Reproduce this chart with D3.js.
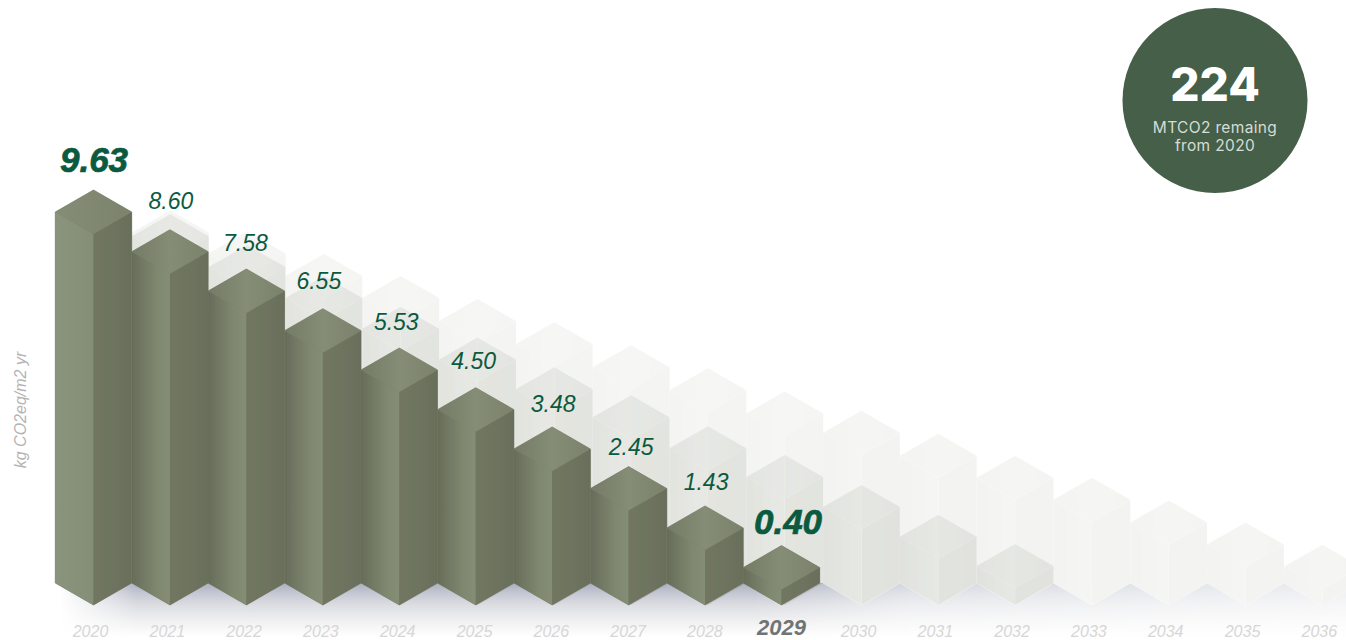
<!DOCTYPE html>
<html>
<head>
<meta charset="utf-8">
<script src="https://d3js.org/d3.v7.min.js"></script>
<style>
html,body{margin:0;padding:0;background:#fff;overflow:hidden}
svg{display:block}
text{font-family:"Liberation Sans",Arial,sans-serif}
</style>
</head>
<body>
<svg id="chart" width="1346" height="640"></svg>
<script>
// ---------- data ----------
const years = [2020,2021,2022,2023,2024,2025,2026,2027,2028,2029,2030,2031,2032,2033,2034,2035,2036];
const actualYears = [2020,2021,2022,2023,2024,2025,2026,2027,2028,2029];
const actualValues = [9.63,8.60,7.58,6.55,5.53,4.50,3.48,2.45,1.43,0.40];
const actualLabels = ["9.63","8.60","7.58","6.55","5.53","4.50","3.48","2.45","1.43","0.40"];
const slowPathYears = [2021,2022,2023,2024,2025,2026,2027,2028,2029,2030,2031,2032,2033,2034,2035,2036];
const slowPathValues = [9.1,8.55,7.97,7.4,6.8,6.2,5.6,5.0,4.4,3.9,3.3,2.73,2.16,1.57,1.0,0.42];
const midPathYears = [2021,2022,2023,2024,2025,2026,2027,2028,2029,2030,2031,2032];
const midPathValues = [9.0,8.2,7.4,6.6,5.8,5.03,4.3,3.5,2.75,1.97,1.2,0.44];
const highlightYears = [2020,2029];
const axisTitle = "kg CO2eq/m2 yr";
const badgeValue = "224";
const badgeLines = ["MTCO2 remaing","from 2020"];

// ---------- layout ----------
const W = 1346, H = 640;
const x = d3.scalePoint().domain(years).range([93.5, 1322.3]);
const xActual = d3.scalePoint().domain(actualYears).range([93.5, 781.5]);
const y = d3.scaleLinear().domain([0, 9.63]).range([583, 212]);
const halfGhost = x.step() / 2, halfActual = xActual.step() / 2, halfD = 22;
const labelGap = [18,21,18,20,18,19,15,12,16,12];
const labelShift = [0.5,1,-1,-4,-3,-2,1,2.5,1,6.5];

const svg = d3.select("#chart").attr("viewBox", `0 0 ${W} ${H}`);
const defs = svg.append("defs");

function hGrad(id, stops) {
  const g = defs.append("linearGradient").attr("id", id);
  stops.forEach(([o, c]) => g.append("stop").attr("offset", o).attr("stop-color", c));
}
hGrad("leftFirst", [[0,"#8a937b"],[1,"#858e76"]]);
hGrad("left", [[0,"#666c58"],[0.3,"#727964"],[0.7,"#808970"],[1,"#848d75"]]);
hGrad("right", [[0,"#70775f"],[0.6,"#6d735e"],[1,"#686e5a"]]);
hGrad("top", [[0,"#747b66"],[0.5,"#858d76"],[1,"#7a826b"]]);
hGrad("topFirst", [[0,"#858d76"],[1,"#7b836c"]]);

const gv = defs.append("linearGradient").attr("id","groundV").attr("x1",0).attr("x2",0).attr("y1",0).attr("y2",1);
[[0,"#abafbf"],[0.2,"#c6c9d3"],[0.42,"#dcdee3"],[0.7,"#f0f0f1"],[1,"#ffffff"]].forEach(([o,c]) =>
  gv.append("stop").attr("offset",o).attr("stop-color",c));
const gm = defs.append("linearGradient").attr("id","groundFade").attr("gradientUnits","userSpaceOnUse")
  .attr("x1",60).attr("x2",W).attr("y1",0).attr("y2",0);
[[0,0],[0.06,1],[0.54,1],[0.66,0.5],[1,0.25]].forEach(([o,a]) =>
  gm.append("stop").attr("offset",o).attr("stop-color","#fff").attr("stop-opacity",a));
defs.append("mask").attr("id","groundMask").attr("maskUnits","userSpaceOnUse")
  .attr("x",0).attr("y",560).attr("width",W).attr("height",80)
  .append("rect").attr("x",0).attr("y",560).attr("width",W).attr("height",80).attr("fill","url(#groundFade)");
defs.append("filter").attr("id","soft").attr("x","-5%").attr("y","-5%").attr("width","110%").attr("height","110%")
  .append("feGaussianBlur").attr("stdDeviation",0.7);

const line = d3.line();
const faces = (cx, halfW, v) => {
  const t = y(v), b = y(0);
  return {
    top:   line([[cx-halfW,t],[cx,t-halfD],[cx+halfW,t],[cx,t+halfD]]) + "Z",
    left:  line([[cx-halfW,t],[cx,t+halfD],[cx,b+halfD],[cx-halfW,b]]) + "Z",
    right: line([[cx,t+halfD],[cx+halfW,t],[cx+halfW,b],[cx,b+halfD]]) + "Z",
    whole: line([[cx-halfW,t],[cx,t-halfD],[cx+halfW,t],[cx+halfW,b],[cx,b+halfD],[cx-halfW,b]]) + "Z"
  };
};

// ground shadow
svg.append("rect").attr("x",0).attr("y",y(0)).attr("width",W).attr("height",54)
  .attr("fill","url(#groundV)").attr("mask","url(#groundMask)");

const marks = svg.append("g").attr("filter","url(#soft)");

// white underlay so that ground shadow stays behind the future ghost bars
const lastActual = actualYears[actualYears.length - 1];
marks.append("g").selectAll("path")
  .data(d3.zip(slowPathYears, slowPathValues).filter(d => d[0] > lastActual)).join("path")
  .attr("d", d => faces(x(d[0]), halfGhost, d[1]).whole).attr("fill","#fff")
  .attr("stroke","#fff").attr("stroke-width",0.6);

function drawLayer(scale, halfW, yrs, vals, opacity, solid) {
  const g = marks.append("g").attr("opacity", opacity);
  const bars = g.selectAll("g").data(d3.zip(yrs, vals)).join("g");
  const first = d => solid && d[0] === years[0];
  const f = d => faces(scale(d[0]), halfW, d[1]);
  if (solid) bars.append("path").attr("d", d => f(d).whole).attr("fill","#757c66")
    .attr("stroke","#757c66").attr("stroke-width",0.6);
  bars.append("path").attr("d", d => f(d).left).attr("fill", d => first(d) ? "url(#leftFirst)" : "url(#left)");
  bars.append("path").attr("d", d => f(d).right).attr("fill","url(#right)");
  bars.append("path").attr("d", d => f(d).top).attr("fill", d => first(d) ? "url(#topFirst)" : "url(#top)");
}
drawLayer(x, halfGhost, slowPathYears, slowPathValues, 0.075, false);
drawLayer(x, halfGhost, midPathYears, midPathValues, 0.125, false);
drawLayer(xActual, halfActual, actualYears, actualValues, 1, true);

// value labels
svg.append("g").selectAll("text").data(d3.zip(actualYears, actualValues, actualLabels, labelGap, labelShift)).join("text")
  .attr("x", d => xActual(d[0]) + d[4])
  .attr("y", d => y(d[1]) - halfD - d[3])
  .attr("text-anchor","middle")
  .attr("font-style","italic")
  .attr("font-weight", d => highlightYears.includes(d[0]) ? 700 : 400)
  .attr("font-size", d => highlightYears.includes(d[0]) ? 35 : 23)
  .attr("fill","#0b5a3f")
  .attr("stroke", d => highlightYears.includes(d[0]) ? "#0b5a3f" : "none")
  .attr("stroke-width", 0.7)
  .text(d => d[2]);

// year labels
svg.append("g").selectAll("text").data(years).join("text")
  .attr("x", d => d === highlightYears[1] ? xActual(d) : x(d) - 3)
  .attr("y", d => d === highlightYears[1] ? 635 : 637)
  .attr("text-anchor","middle")
  .attr("font-style","italic")
  .attr("font-weight", d => highlightYears[1] === d ? 700 : 400)
  .attr("font-size", d => highlightYears[1] === d ? 22 : 16)
  .attr("fill", d => highlightYears[1] === d ? "#6e7575" : "#d6d6d6")
  .text(d => d);

// axis title
svg.append("text")
  .attr("transform","translate(26,410) rotate(-90)")
  .attr("text-anchor","middle")
  .attr("font-style","italic")
  .attr("font-size",16)
  .attr("fill","#b4b4b4")
  .text(axisTitle);

// badge
const badge = svg.append("g").attr("transform","translate(1215,100.5)");
badge.append("circle").attr("r",92.5).attr("fill","#465f48");
badge.append("text").attr("y",0).attr("text-anchor","middle")
  .style("font-family","Inter, sans-serif").attr("font-weight",800).attr("font-size",46)
  .attr("fill","#fff").text(badgeValue);
badge.selectAll("text.sub").data(badgeLines).join("text").attr("class","sub")
  .attr("y",(d,i) => 32 + i*18).attr("text-anchor","middle")
  .style("font-family","Inter, sans-serif").attr("font-size",15.5).attr("letter-spacing",0.35)
  .attr("fill","#d5ddd5").text(d => d);
</script>
</body>
</html>
